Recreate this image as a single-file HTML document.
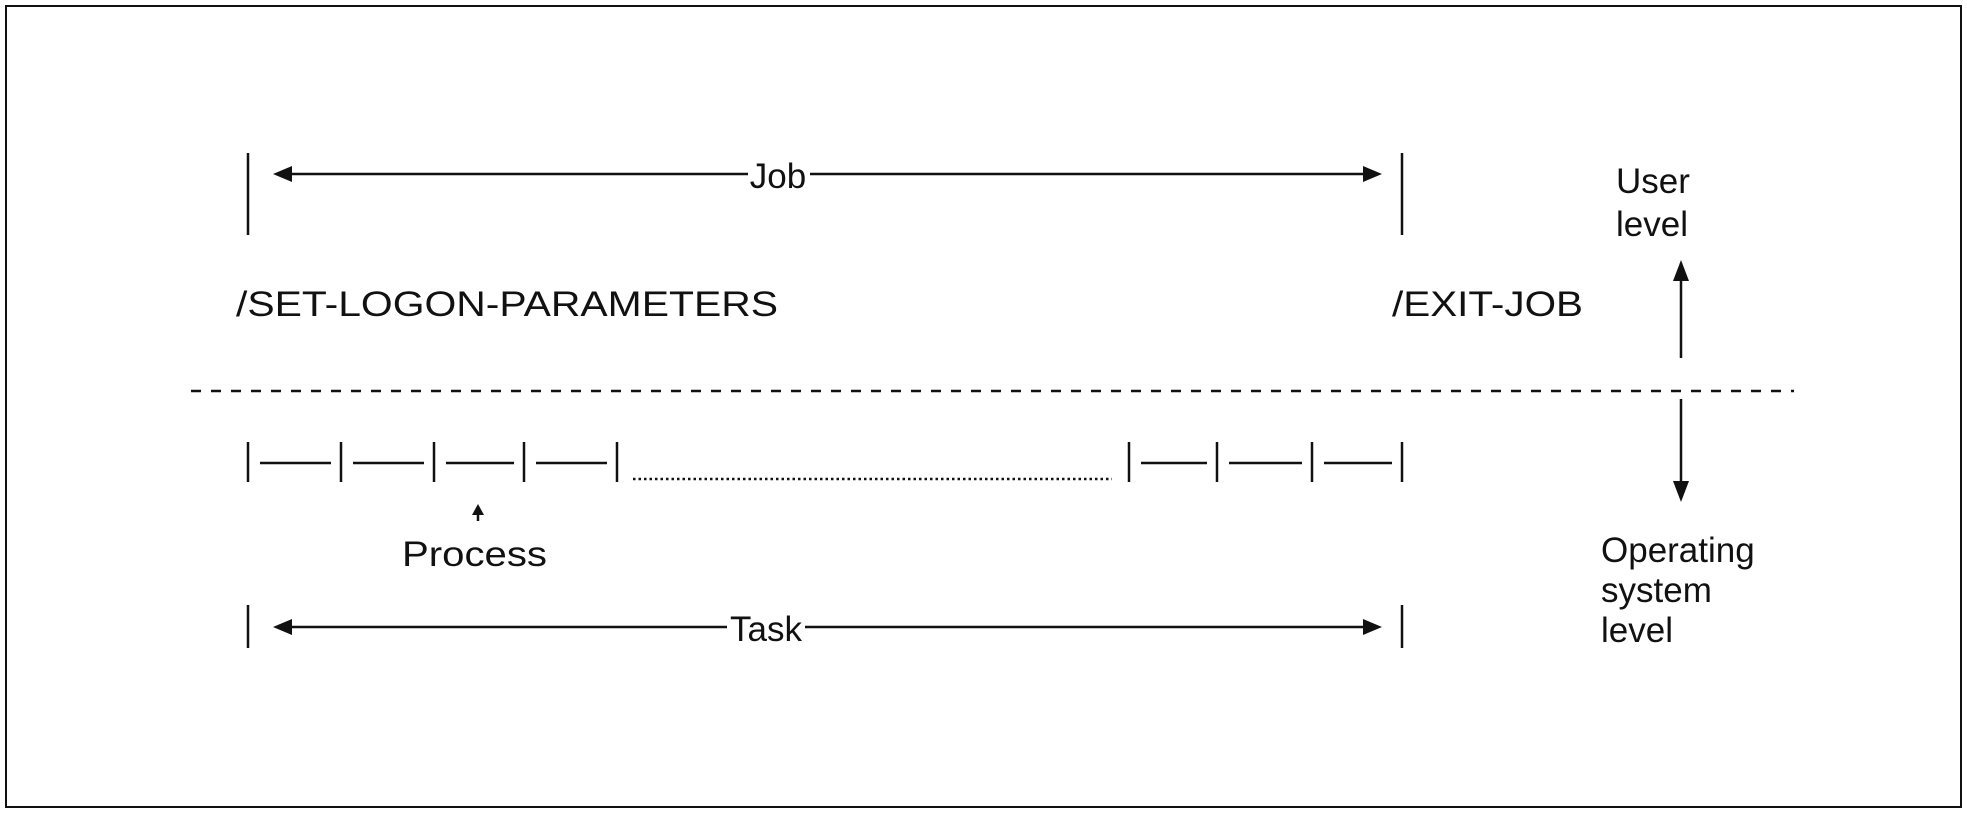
<!DOCTYPE html>
<html><head><meta charset="utf-8"><style>
html,body{margin:0;padding:0;background:#fff;}
svg{display:block;}
text{font-family:"Liberation Sans",Arial,sans-serif;fill:#111;}
</style></head><body>
<svg width="1967" height="813" viewBox="0 0 1967 813" xmlns="http://www.w3.org/2000/svg">
<rect x="6" y="6" width="1955" height="801" fill="#fff" stroke="#111" stroke-width="2"/>
<g stroke="#111" stroke-width="2.5" fill="none">
<line x1="248" y1="153" x2="248" y2="235"/>
<line x1="1402" y1="153" x2="1402" y2="235"/>
<line x1="290" y1="174" x2="748" y2="174"/>
<line x1="810" y1="174" x2="1363" y2="174"/>
<line x1="248" y1="605" x2="248" y2="648"/>
<line x1="1402" y1="605" x2="1402" y2="648"/>
<line x1="290" y1="627" x2="727" y2="627"/>
<line x1="805" y1="627" x2="1363" y2="627"/>
<line x1="191" y1="391" x2="1794" y2="391" stroke-dasharray="10,10"/>
<line x1="1681" y1="280" x2="1681" y2="358"/>
<line x1="1681" y1="399" x2="1681" y2="482"/>
<line x1="248" y1="442" x2="248" y2="482"/>
<line x1="341" y1="442" x2="341" y2="482"/>
<line x1="434" y1="442" x2="434" y2="482"/>
<line x1="524" y1="442" x2="524" y2="482"/>
<line x1="617" y1="442" x2="617" y2="482"/>
<line x1="1129" y1="442" x2="1129" y2="482"/>
<line x1="1217" y1="442" x2="1217" y2="482"/>
<line x1="1312" y1="442" x2="1312" y2="482"/>
<line x1="1402" y1="442" x2="1402" y2="482"/>
<line x1="260" y1="463" x2="331" y2="463"/>
<line x1="353" y1="463" x2="424" y2="463"/>
<line x1="446" y1="463" x2="514" y2="463"/>
<line x1="536" y1="463" x2="607" y2="463"/>
<line x1="1141" y1="463" x2="1207" y2="463"/>
<line x1="1229" y1="463" x2="1302" y2="463"/>
<line x1="1324" y1="463" x2="1392" y2="463"/>
<line x1="633" y1="479" x2="1112" y2="479" stroke-dasharray="2.5,3"/>
<line x1="478" y1="512" x2="478" y2="521"/>
</g>
<g fill="#111">
<polygon points="273,174 292,166 292,182"/>
<polygon points="1382,174 1363,166 1363,182"/>
<polygon points="273,627 292,619 292,635"/>
<polygon points="1382,627 1363,619 1363,635"/>
<polygon points="1681,260 1673,281 1689,281"/>
<polygon points="1681,502 1673,481 1689,481"/>
<polygon points="478,504 472,515 484,515"/>
</g>
<g font-size="35">
<text x="778" y="188" text-anchor="middle">Job</text>
<text x="766" y="641" text-anchor="middle">Task</text>
<text x="236" y="316" textLength="542" lengthAdjust="spacingAndGlyphs">/SET-LOGON-PARAMETERS</text>
<text x="1392" y="316" textLength="191" lengthAdjust="spacingAndGlyphs">/EXIT-JOB</text>
<text x="1616" y="193">User</text>
<text x="1616" y="236">level</text>
<text x="402" y="566" textLength="145" lengthAdjust="spacingAndGlyphs">Process</text>
<text x="1601" y="562">Operating</text>
<text x="1601" y="602">system</text>
<text x="1601" y="642">level</text>
</g>
</svg>
</body></html>
